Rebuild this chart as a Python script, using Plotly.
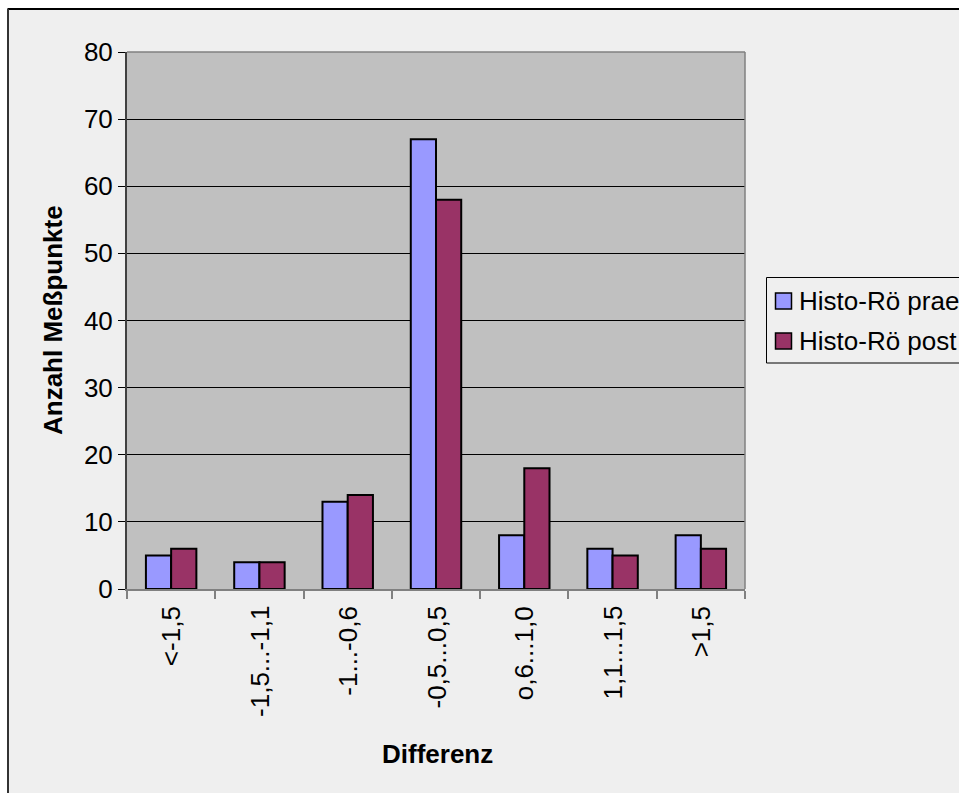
import plotly.graph_objects as go

# Histogram of differences, counts per class
categories = ["<-1,5", "-1,5...-1,1", "-1...-0,6", "-0,5...0,5", "o,6...1,0", "1,1...1,5", ">1,5"]
prae = [5, 4, 13, 67, 8, 6, 8]
post = [6, 4, 14, 58, 18, 5, 6]
series_names = ["Histo-Rö prae", "Histo-Rö post"]
series_colors = ["#9999ff", "#993366"]
y_ticks = [0, 10, 20, 30, 40, 50, 60, 70, 80]

W, H = 959, 793
L, R, T, B = 127, 214, 52, 204
pw, ph = W - L - R, H - T - B

def px_x(p):
    return (p - L) / pw

def px_y(p):
    return (H - B - p) / ph

FONT = "Liberation Sans, Arial, sans-serif"
FS = 26
BG = "#efefef"

fig = go.Figure()
for name, vals, col in zip(series_names, [prae, post], series_colors):
    fig.add_trace(go.Bar(x=categories, y=vals, name=name,
                         marker=dict(color=col, line=dict(color="#000000", width=2))))

shapes = [
    # white strips outside the chart frame
    dict(type="rect", xref="paper", yref="paper", x0=px_x(-5), x1=px_x(W + 5),
         y0=px_y(8.5), y1=px_y(-5), fillcolor="white", line=dict(width=0), layer="below"),
    dict(type="rect", xref="paper", yref="paper", x0=px_x(-5), x1=px_x(7.5),
         y0=px_y(H + 5), y1=px_y(-5), fillcolor="white", line=dict(width=0), layer="below"),
    # frame edges
    dict(type="line", xref="paper", yref="paper", x0=px_x(7.5), x1=px_x(W + 5),
         y0=px_y(9), y1=px_y(9), line=dict(color="#000000", width=2)),
    dict(type="line", xref="paper", yref="paper", x0=px_x(8), x1=px_x(8),
         y0=px_y(9), y1=px_y(H + 5), line=dict(color="#333333", width=2)),
    # plot area outline (top and right)
    dict(type="line", xref="paper", yref="paper", x0=0, x1=1, y0=1, y1=1,
         line=dict(color="#808080", width=1.5)),
    dict(type="line", xref="paper", yref="paper", x0=1, x1=1, y0=0, y1=1,
         line=dict(color="#808080", width=1.5)),
    # legend box
    dict(type="rect", xref="paper", yref="paper", x0=px_x(766.5), x1=px_x(W + 10),
         y0=px_y(363), y1=px_y(277.5), fillcolor=BG, line=dict(color="#000000", width=1)),
]

annotations = [
    dict(text="<b>Differenz</b>", xref="paper", yref="paper",
         x=px_x(437), y=px_y(754), xanchor="center", yanchor="middle", showarrow=False,
         font=dict(family=FONT, size=FS)),
    dict(text="<b>Anzahl Meßpunkte</b>", xref="paper", yref="paper",
         x=px_x(53), y=px_y(320), xanchor="center", yanchor="middle", showarrow=False,
         textangle=-90, font=dict(family=FONT, size=FS)),
]

# category labels, rotated, hanging below the axis
for c in categories:
    annotations.append(dict(text=c, xref="x", yref="paper", x=c, y=px_y(604),
                            xanchor="center", yanchor="top", textangle=-90,
                            showarrow=False, font=dict(family=FONT, size=FS)))

# legend entries
legend_rows = [301, 341]
for name, col, yc in zip(series_names, series_colors, legend_rows):
    shapes.append(dict(type="rect", xref="paper", yref="paper",
                       x0=px_x(775.5), x1=px_x(791.5), y0=px_y(yc + 8), y1=px_y(yc - 8),
                       fillcolor=col, line=dict(color="#000000", width=1.5)))
    annotations.append(dict(text=name, xref="paper", yref="paper",
                            x=px_x(797), y=px_y(yc), xanchor="left", yanchor="middle",
                            showarrow=False, font=dict(family=FONT, size=FS)))

fig.update_layout(
    width=W, height=H,
    margin=dict(l=L, r=R, t=T, b=B, pad=0, autoexpand=False),
    paper_bgcolor=BG, plot_bgcolor="#c0c0c0",
    font=dict(family=FONT, size=FS, color="#000000"),
    barmode="group", bargap=0.4286, bargroupgap=0,
    showlegend=False,
    shapes=shapes,
    annotations=annotations,
)

fig.update_xaxes(type="category", tickson="boundaries", ticks="outside", ticklen=8,
                 tickcolor="#808080", tickwidth=1.5, showticklabels=False,
                 showline=True, linecolor="#808080", linewidth=1.5,
                 showgrid=False, zeroline=False)
fig.update_yaxes(range=[0, 80], tickvals=y_ticks, ticks="outside", ticklen=7,
                 tickcolor="#000000", tickwidth=1,
                 showline=True, linecolor="#404040", linewidth=2,
                 showgrid=True, gridcolor="#000000", gridwidth=1,
                 zeroline=False, tickfont=dict(family=FONT, size=FS))

fig.write_html("out.html")
